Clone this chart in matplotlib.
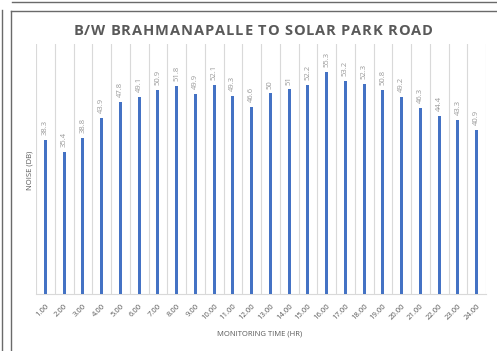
import matplotlib.pyplot as plt
from matplotlib.lines import Line2D
import numpy as np

hours = ['1.00', '2.00', '3.00', '4.00', '5.00', '6.00', '7.00', '8.00',
         '9.00', '10.00', '11.00', '12.00', '13.00', '14.00', '15.00', '16.00',
         '17.00', '18.00', '19.00', '20.00', '21.00', '22.00', '23.00', '24.00']
noise = [38.3, 35.4, 38.8, 43.9, 47.8, 49.1, 50.9, 51.8, 49.9, 52.1, 49.3, 46.6,
         50, 51, 52.2, 55.3, 53.2, 52.3, 50.8, 49.2, 46.3, 44.4, 43.3, 40.9]
value_labels = ['38.3', '35.4', '38.8', '43.9', '47.8', '49.1', '50.9', '51.8',
                '49.9', '52.1', '49.3', '46.6', '50', '51', '52.2', '55.3',
                '53.2', '52.3', '50.8', '49.2', '46.3', '44.4', '43.3', '40.9']
title = 'B/W BRAHMANAPALLE TO SOLAR PARK ROAD'

W, H = 497, 351
fig = plt.figure(figsize=(W / 100, H / 100), dpi=100)
ax = fig.add_axes([36 / W, 1 - 294 / H, 450 / W, 250 / H])

x = np.arange(len(hours))
ax.bar(x, noise, width=0.17, color='#4472C4', zorder=3)
for xi, v, lab in zip(x, noise, value_labels):
    ax.text(xi, v + 1.2, lab, rotation=90, ha='center', va='bottom',
            fontsize=5.5, color='#999999', family='Open Sans')

ax.set_xlim(-0.5, len(hours) - 0.5)
ax.set_ylim(0, 62.3)
# vertical gridlines between categories
for b in np.arange(-0.5, len(hours), 1.0):
    ax.axvline(b, color='#d9d9d9', lw=0.8, zorder=1)

ax.set_xticks(x)
ax.set_xticklabels(hours, rotation=45, ha='right', rotation_mode='anchor',
                   fontsize=5.5, color='#595959', family='Open Sans')
ax.tick_params(axis='x', length=0, pad=6)
ax.set_yticks([])
for side in ['top', 'right', 'left']:
    ax.spines[side].set_visible(False)
ax.spines['bottom'].set_color('#d9d9d9')
ax.spines['bottom'].set_linewidth(0.8)

fig.text(260 / W, 1 - 334 / H, 'MONITORING TIME (HR)', ha='center', va='center',
         fontsize=5.5, color='#595959', family='Open Sans')
fig.text(30 / W, 1 - 170 / H, 'NOISE (DB)', rotation=90, ha='center', va='center',
         fontsize=5.5, color='#595959', family='Open Sans')

# title drawn letter by letter to get the wide tracking
fig.canvas.draw()
renderer = fig.canvas.get_renderer()
tracking = 0.9
pieces = []
for ch in title:
    t = fig.text(0, 1 - 31 / H, ch, ha='left', va='center', fontsize=10.5,
                 fontweight='bold', color='#595959', family='Open Sans')
    w = t.get_window_extent(renderer).width if ch != ' ' else 3.4
    pieces.append((t, w))
total = sum(w for _, w in pieces) + tracking * (len(pieces) - 1)
cur = 253 - total / 2
for t, w in pieces:
    t.set_x(cur / W)
    cur += w + tracking

# surrounding frames
frame = '#6a6a6a'
fig.add_artist(Line2D([10.5 / W, 10.5 / W], [0, 1 - 11 / H], color=frame, lw=1.0))
fig.add_artist(Line2D([10.5 / W, 1], [1 - 11 / H, 1 - 11 / H], color=frame, lw=1.0))
fig.add_artist(Line2D([2 / W, 2 / W], [0, 1 - 10 / H], color=frame, lw=1.0))
fig.add_artist(Line2D([12 / W, 1], [1 - 1.5 / H, 1 - 1.5 / H], color=frame, lw=1.0))

fig.savefig('out.png', dpi=100)
